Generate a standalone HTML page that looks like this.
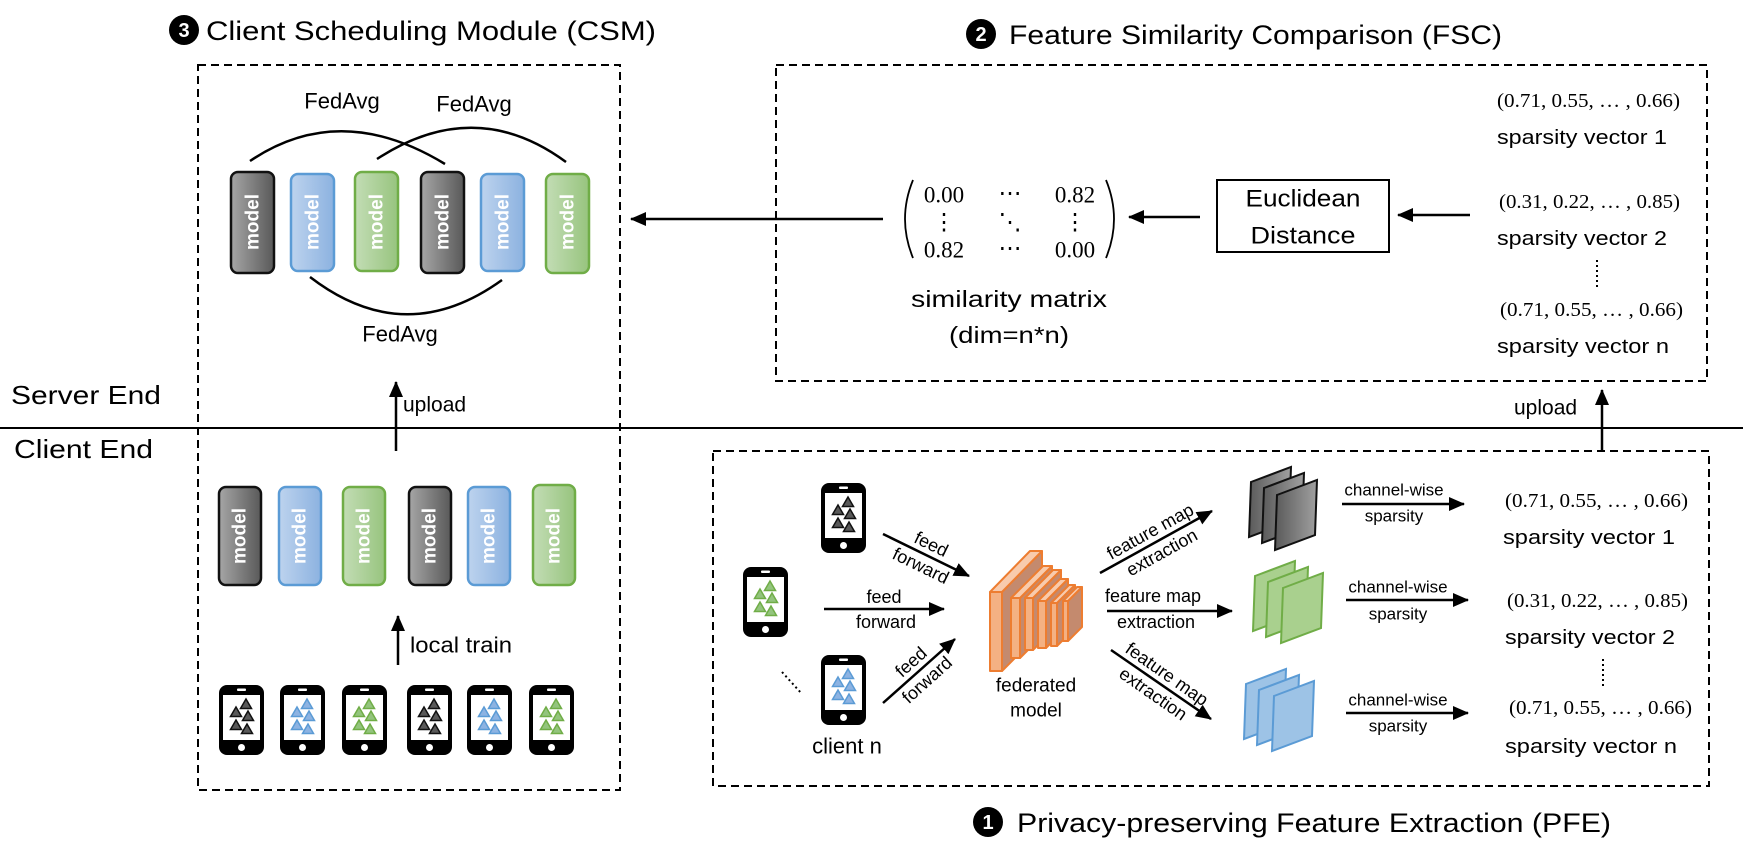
<!DOCTYPE html>
<html><head><meta charset="utf-8"><style>
html,body{margin:0;padding:0;background:#fff;}
svg{display:block;}
text{font-family:"Liberation Sans",sans-serif;fill:#000;}
.s{font-family:"Liberation Serif",serif;}
</style></head><body>
<svg width="1743" height="850" viewBox="0 0 1743 850" xmlns="http://www.w3.org/2000/svg">
<defs>
<marker id="ah2" markerWidth="16" markerHeight="14" refX="15" refY="7" orient="auto" markerUnits="userSpaceOnUse" viewBox="0 0 16 14">
<path d="M0,0 L16,7 L0,14 z" fill="#000"/></marker>
<linearGradient id="gk" x1="0" x2="1"><stop offset="0" stop-color="#a6a6a6"/><stop offset="1" stop-color="#595959"/></linearGradient>
<linearGradient id="gb" x1="0" x2="1"><stop offset="0" stop-color="#bdd3ee"/><stop offset="1" stop-color="#8cb2e0"/></linearGradient>
<linearGradient id="gg" x1="0" x2="1"><stop offset="0" stop-color="#c3ddb5"/><stop offset="1" stop-color="#97c47e"/></linearGradient>
<linearGradient id="gks" x1="0" x2="1"><stop offset="0" stop-color="#5a5a5a"/><stop offset="1" stop-color="#a0a0a0"/></linearGradient>
<path id="tri" d="M0,-5 L5.5,4.5 L-5.5,4.5 z"/>
<g id="phk">
<rect x="0" y="0" width="45" height="70" rx="8" fill="#000"/>
<rect x="4" y="10" width="37" height="45" fill="#fff"/>
<rect x="18" y="3.5" width="9" height="2.5" rx="1" fill="#fff"/>
<circle cx="22.5" cy="62.5" r="3.5" fill="#fff"/>
</g>
<g id="tk" fill="#595959" stroke="#111" stroke-width="1.5">
<use href="#tri" x="27" y="19"/><use href="#tri" x="17" y="27"/><use href="#tri" x="29" y="31"/><use href="#tri" x="17" y="40"/><use href="#tri" x="28" y="44"/></g>
<g id="tb" fill="#8db3e2" stroke="#5b9bd5" stroke-width="1.5">
<use href="#tri" x="27" y="19"/><use href="#tri" x="17" y="27"/><use href="#tri" x="29" y="31"/><use href="#tri" x="17" y="40"/><use href="#tri" x="28" y="44"/></g>
<g id="tg" fill="#93c47d" stroke="#70ad47" stroke-width="1.5">
<use href="#tri" x="27" y="19"/><use href="#tri" x="17" y="27"/><use href="#tri" x="29" y="31"/><use href="#tri" x="17" y="40"/><use href="#tri" x="28" y="44"/></g>
<polygon id="sheet" points="0,15 40,0 38,55 -2,70"/>
</defs>

<circle cx="184" cy="30" r="15" fill="#000"/>
<text x="184" y="31" font-size="20" font-weight="bold" text-anchor="middle" dominant-baseline="central" style="fill:#fff">3</text>
<text x="206" y="31" font-size="27" dominant-baseline="central" textLength="450" lengthAdjust="spacingAndGlyphs">Client Scheduling Module (CSM)</text>
<circle cx="981" cy="34" r="15" fill="#000"/>
<text x="981" y="35" font-size="20" font-weight="bold" text-anchor="middle" dominant-baseline="central" style="fill:#fff">2</text>
<text x="1009" y="35" font-size="27" dominant-baseline="central" textLength="493" lengthAdjust="spacingAndGlyphs">Feature Similarity Comparison (FSC)</text>
<circle cx="988" cy="822" r="15" fill="#000"/>
<text x="988" y="823" font-size="20" font-weight="bold" text-anchor="middle" dominant-baseline="central" style="fill:#fff">1</text>
<text x="1017" y="823" font-size="27" dominant-baseline="central" textLength="594" lengthAdjust="spacingAndGlyphs">Privacy-preserving Feature Extraction (PFE)</text>

<g fill="none" stroke="#000" stroke-width="2" stroke-dasharray="8,5">
<rect x="198" y="65" width="422" height="725"/>
<rect x="776" y="65" width="931" height="316"/>
<rect x="713" y="451" width="996" height="335"/>
</g>
<line x1="0" y1="428" x2="1743" y2="428" stroke="#000" stroke-width="2"/>
<text x="11" y="395" font-size="26" dominant-baseline="central" textLength="150" lengthAdjust="spacingAndGlyphs">Server End</text>
<text x="14" y="449" font-size="26" dominant-baseline="central" textLength="139" lengthAdjust="spacingAndGlyphs">Client End</text>

<g stroke-width="2.5">
<rect x="231" y="172" width="43" height="101" rx="7" fill="url(#gk)" stroke="#111"/>
<rect x="291" y="174" width="43" height="97" rx="7" fill="url(#gb)" stroke="#5b9bd5"/>
<rect x="355" y="172" width="43" height="99" rx="7" fill="url(#gg)" stroke="#70ad47"/>
<rect x="421" y="172" width="43" height="101" rx="7" fill="url(#gk)" stroke="#111"/>
<rect x="481" y="174" width="43" height="97" rx="7" fill="url(#gb)" stroke="#5b9bd5"/>
<rect x="546" y="174" width="43" height="99" rx="7" fill="url(#gg)" stroke="#70ad47"/>
</g>
<g font-size="19" font-weight="bold" text-anchor="middle">
<text transform="translate(253,222) rotate(-90)" dominant-baseline="central" style="fill:#fff">model</text>
<text transform="translate(313,222) rotate(-90)" dominant-baseline="central" style="fill:#fff">model</text>
<text transform="translate(377,222) rotate(-90)" dominant-baseline="central" style="fill:#fff">model</text>
<text transform="translate(443,222) rotate(-90)" dominant-baseline="central" style="fill:#fff">model</text>
<text transform="translate(503,222) rotate(-90)" dominant-baseline="central" style="fill:#fff">model</text>
<text transform="translate(568,222) rotate(-90)" dominant-baseline="central" style="fill:#fff">model</text>
</g>
<g fill="none" stroke="#000" stroke-width="2.5">
<path d="M250,161 Q340,100 445,164"/>
<path d="M377,159 Q475,95 566,162"/>
<path d="M310,277 Q405,350 502,280"/>
</g>
<g font-size="22" text-anchor="middle">
<text x="342" y="101" dominant-baseline="central">FedAvg</text>
<text x="474" y="104" dominant-baseline="central">FedAvg</text>
<text x="400" y="334" dominant-baseline="central">FedAvg</text>
</g>
<line x1="396" y1="451" x2="396" y2="382" stroke="#000" stroke-width="2.5" marker-end="url(#ah2)"/>
<text x="403" y="405" font-size="21" dominant-baseline="central">upload</text>

<g stroke-width="2.5">
<rect x="219" y="487" width="42" height="98" rx="7" fill="url(#gk)" stroke="#111"/>
<rect x="279" y="487" width="42" height="98" rx="7" fill="url(#gb)" stroke="#5b9bd5"/>
<rect x="343" y="487" width="42" height="98" rx="7" fill="url(#gg)" stroke="#70ad47"/>
<rect x="409" y="487" width="42" height="98" rx="7" fill="url(#gk)" stroke="#111"/>
<rect x="468" y="487" width="42" height="98" rx="7" fill="url(#gb)" stroke="#5b9bd5"/>
<rect x="533" y="485" width="42" height="100" rx="7" fill="url(#gg)" stroke="#70ad47"/>
</g>
<g font-size="19" font-weight="bold" text-anchor="middle">
<text transform="translate(240,536) rotate(-90)" dominant-baseline="central" style="fill:#fff">model</text>
<text transform="translate(300,536) rotate(-90)" dominant-baseline="central" style="fill:#fff">model</text>
<text transform="translate(364,536) rotate(-90)" dominant-baseline="central" style="fill:#fff">model</text>
<text transform="translate(430,536) rotate(-90)" dominant-baseline="central" style="fill:#fff">model</text>
<text transform="translate(489,536) rotate(-90)" dominant-baseline="central" style="fill:#fff">model</text>
<text transform="translate(554,536) rotate(-90)" dominant-baseline="central" style="fill:#fff">model</text>
</g>
<line x1="398" y1="665" x2="398" y2="616" stroke="#000" stroke-width="2.5" marker-end="url(#ah2)"/>
<text x="410" y="645" font-size="22" dominant-baseline="central" textLength="102" lengthAdjust="spacingAndGlyphs">local train</text>

<use href="#phk" x="219" y="685"/><use href="#tk" x="219" y="685"/>
<use href="#phk" x="280" y="685"/><use href="#tb" x="280" y="685"/>
<use href="#phk" x="342" y="685"/><use href="#tg" x="342" y="685"/>
<use href="#phk" x="407" y="685"/><use href="#tk" x="407" y="685"/>
<use href="#phk" x="467" y="685"/><use href="#tb" x="467" y="685"/>
<use href="#phk" x="529" y="685"/><use href="#tg" x="529" y="685"/>

<line x1="883" y1="219" x2="631" y2="219" stroke="#000" stroke-width="2.5" marker-end="url(#ah2)"/>
<g fill="none" stroke="#000" stroke-width="1.8">
<path d="M913,180 Q897,219 913,258"/>
<path d="M1106,180 Q1122,219 1106,258"/>
</g>
<g font-size="23" text-anchor="middle">
<text class="s" x="944" y="195" dominant-baseline="central">0.00</text>
<text class="s" x="1010" y="193" dominant-baseline="central">⋯</text>
<text class="s" x="1075" y="195" dominant-baseline="central">0.82</text>
<text class="s" x="944" y="222" dominant-baseline="central">⋮</text>
<text class="s" x="1010" y="222" dominant-baseline="central">⋱</text>
<text class="s" x="1075" y="222" dominant-baseline="central">⋮</text>
<text class="s" x="944" y="250" dominant-baseline="central">0.82</text>
<text class="s" x="1010" y="248" dominant-baseline="central">⋯</text>
<text class="s" x="1075" y="250" dominant-baseline="central">0.00</text>
</g>
<text x="1009" y="299" font-size="23" text-anchor="middle" dominant-baseline="central" textLength="196" lengthAdjust="spacingAndGlyphs">similarity matrix</text>
<text x="1009" y="335" font-size="23" text-anchor="middle" dominant-baseline="central" textLength="120" lengthAdjust="spacingAndGlyphs">(dim=n*n)</text>
<line x1="1200" y1="217" x2="1129" y2="217" stroke="#000" stroke-width="2.5" marker-end="url(#ah2)"/>
<rect x="1217" y="180" width="172" height="72" fill="#fff" stroke="#000" stroke-width="2"/>
<text x="1303" y="199" font-size="24" text-anchor="middle" dominant-baseline="central" textLength="115" lengthAdjust="spacingAndGlyphs">Euclidean</text>
<text x="1303" y="236" font-size="24" text-anchor="middle" dominant-baseline="central" textLength="105" lengthAdjust="spacingAndGlyphs">Distance</text>
<line x1="1470" y1="215" x2="1398" y2="215" stroke="#000" stroke-width="2.5" marker-end="url(#ah2)"/>
<g font-size="20">
<text class="s" x="1497" y="101" dominant-baseline="central" textLength="183" lengthAdjust="spacingAndGlyphs">(0.71, 0.55, … , 0.66)</text>
<text x="1497" y="138" dominant-baseline="central" textLength="170" lengthAdjust="spacingAndGlyphs">sparsity vector 1</text>
<text class="s" x="1499" y="202" dominant-baseline="central" textLength="181" lengthAdjust="spacingAndGlyphs">(0.31, 0.22, … , 0.85)</text>
<text x="1497" y="239" dominant-baseline="central" textLength="170" lengthAdjust="spacingAndGlyphs">sparsity vector 2</text>
<text class="s" x="1500" y="310" dominant-baseline="central" textLength="183" lengthAdjust="spacingAndGlyphs">(0.71, 0.55, … , 0.66)</text>
<text x="1497" y="347" dominant-baseline="central" textLength="172" lengthAdjust="spacingAndGlyphs">sparsity vector  n</text>
</g>
<line x1="1597" y1="260" x2="1597" y2="288" stroke="#000" stroke-width="2" stroke-dasharray="2,3"/>
<line x1="1602" y1="450" x2="1602" y2="390" stroke="#000" stroke-width="2.5" marker-end="url(#ah2)"/>
<text x="1514" y="408" font-size="21" dominant-baseline="central">upload</text>

<use href="#phk" x="821" y="483"/><use href="#tk" x="821" y="483"/>
<use href="#phk" x="743" y="567"/><use href="#tg" x="743" y="567"/>
<use href="#phk" x="821" y="655"/><use href="#tb" x="821" y="655"/>
<text x="847" y="746" font-size="22" text-anchor="middle" dominant-baseline="central">client n</text>
<line x1="782" y1="672" x2="802" y2="694" stroke="#000" stroke-width="2" stroke-dasharray="2,3"/>

<g stroke="#000" stroke-width="2.5">
<line x1="883" y1="534" x2="969" y2="576" marker-end="url(#ah2)"/>
<line x1="824" y1="609" x2="944" y2="609" marker-end="url(#ah2)"/>
<line x1="883" y1="703" x2="955" y2="639" marker-end="url(#ah2)"/>
</g>
<g font-size="18" text-anchor="middle">
<text transform="translate(926,555) rotate(26)" y="-12" dominant-baseline="central">feed</text>
<text transform="translate(926,555) rotate(26)" y="12" dominant-baseline="central">forward</text>
<text x="884" y="597" dominant-baseline="central">feed</text>
<text x="886" y="622" dominant-baseline="central">forward</text>
<text transform="translate(919,671) rotate(-42)" y="-12" dominant-baseline="central">feed</text>
<text transform="translate(919,671) rotate(-42)" y="12" dominant-baseline="central">forward</text>
</g>

<g stroke="#ed7d31" stroke-width="2" stroke-linejoin="round">
<polygon points="1002,592 1042,551 1042,631 1002,671" fill="#c48a6e"/>
<polygon points="990,592 1002,592 1042,551 1030,551" fill="#f8cbad"/>
<rect x="990" y="592" width="12" height="79" fill="#f4b183"/>
<polygon points="1020,598 1052,566 1052,626 1020,658" fill="#c48a6e"/>
<polygon points="1011,598 1020,598 1052,566 1043,566" fill="#f8cbad"/>
<rect x="1011" y="598" width="9" height="60" fill="#f4b183"/>
<polygon points="1033,598 1061,570 1061,622 1033,650" fill="#c48a6e"/>
<polygon points="1025,598 1033,598 1061,570 1053,570" fill="#f8cbad"/>
<rect x="1025" y="598" width="8" height="52" fill="#f4b183"/>
<polygon points="1046,601 1068,579 1068,626 1046,648" fill="#c48a6e"/>
<polygon points="1038,601 1046,601 1068,579 1060,579" fill="#f8cbad"/>
<rect x="1038" y="601" width="8" height="47" fill="#f4b183"/>
<polygon points="1057,603 1075,585 1075,628 1057,646" fill="#c48a6e"/>
<polygon points="1051,603 1057,603 1075,585 1069,585" fill="#f8cbad"/>
<rect x="1051" y="603" width="6" height="43" fill="#f4b183"/>
<polygon points="1068,601 1082,587 1082,627 1068,641" fill="#c48a6e"/>
<polygon points="1063,601 1068,601 1082,587 1077,587" fill="#f8cbad"/>
<rect x="1063" y="601" width="5" height="40" fill="#f4b183"/>
</g>
<text x="1036" y="686" font-size="19" text-anchor="middle" dominant-baseline="central">federated</text>
<text x="1036" y="711" font-size="19" text-anchor="middle" dominant-baseline="central">model</text>

<g stroke="#000" stroke-width="2.5">
<line x1="1100" y1="573" x2="1212" y2="511" marker-end="url(#ah2)"/>
<line x1="1107" y1="611" x2="1232" y2="611" marker-end="url(#ah2)"/>
<line x1="1111" y1="650" x2="1211" y2="719" marker-end="url(#ah2)"/>
</g>
<g font-size="18" text-anchor="middle">
<text transform="translate(1156,542) rotate(-29)" y="-12" dominant-baseline="central">feature map</text>
<text transform="translate(1156,542) rotate(-29)" y="12" dominant-baseline="central">extraction</text>
<text x="1153" y="596" dominant-baseline="central">feature map</text>
<text x="1156" y="622" dominant-baseline="central">extraction</text>
<text transform="translate(1160,684) rotate(35)" y="-12" dominant-baseline="central">feature map</text>
<text transform="translate(1160,684) rotate(35)" y="12" dominant-baseline="central">extraction</text>
</g>

<g fill="url(#gks)" stroke="#111" stroke-width="2">
<use href="#sheet" x="1251" y="467"/><use href="#sheet" x="1264" y="473"/><use href="#sheet" x="1277" y="480"/>
</g>
<g fill="#a9d08e" stroke="#70ad47" stroke-width="2">
<use href="#sheet" x="1255" y="561"/><use href="#sheet" x="1268" y="567"/><use href="#sheet" x="1283" y="573"/>
</g>
<g fill="#9dc3e6" stroke="#5b9bd5" stroke-width="2">
<use href="#sheet" x="1246" y="669"/><use href="#sheet" x="1259" y="675"/><use href="#sheet" x="1274" y="681"/>
</g>

<g stroke="#000" stroke-width="2.5">
<line x1="1342" y1="504" x2="1464" y2="504" marker-end="url(#ah2)"/>
<line x1="1346" y1="600" x2="1468" y2="600" marker-end="url(#ah2)"/>
<line x1="1346" y1="713" x2="1468" y2="713" marker-end="url(#ah2)"/>
</g>
<g font-size="17" text-anchor="middle">
<text x="1394" y="490" dominant-baseline="central">channel-wise</text>
<text x="1394" y="516" dominant-baseline="central">sparsity</text>
<text x="1398" y="587" dominant-baseline="central">channel-wise</text>
<text x="1398" y="614" dominant-baseline="central">sparsity</text>
<text x="1398" y="700" dominant-baseline="central">channel-wise</text>
<text x="1398" y="726" dominant-baseline="central">sparsity</text>
</g>
<g font-size="20">
<text class="s" x="1505" y="501" dominant-baseline="central" textLength="183" lengthAdjust="spacingAndGlyphs">(0.71, 0.55, … , 0.66)</text>
<text x="1503" y="538" dominant-baseline="central" textLength="172" lengthAdjust="spacingAndGlyphs">sparsity vector  1</text>
<text class="s" x="1507" y="601" dominant-baseline="central" textLength="181" lengthAdjust="spacingAndGlyphs">(0.31, 0.22, … , 0.85)</text>
<text x="1505" y="638" dominant-baseline="central" textLength="170" lengthAdjust="spacingAndGlyphs">sparsity vector  2</text>
<text class="s" x="1509" y="708" dominant-baseline="central" textLength="183" lengthAdjust="spacingAndGlyphs">(0.71, 0.55, … , 0.66)</text>
<text x="1505" y="747" dominant-baseline="central" textLength="172" lengthAdjust="spacingAndGlyphs">sparsity vector  n</text>
</g>
<line x1="1603" y1="659" x2="1603" y2="687" stroke="#000" stroke-width="2" stroke-dasharray="2,3"/>
</svg>
</body></html>
